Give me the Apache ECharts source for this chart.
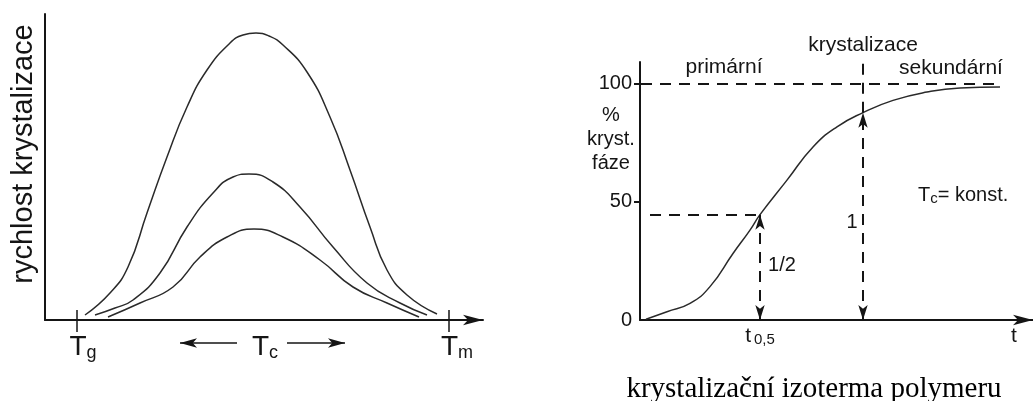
<!DOCTYPE html>
<html><head><meta charset="utf-8">
<script src="https://cdn.jsdelivr.net/npm/echarts@6/dist/echarts.min.js"></script>
<style>html,body{margin:0;padding:0;background:#fff}#c{width:1033px;height:401px}</style>
</head><body><div id="c"></div>
<script>
// ---- left panel: crystallisation rate vs. temperature ----
const rateHigh = [[40,5],[65,27],[83,53],[102,107],[122,163],[142,213],[162,250],[185,277],[198,285],[211,287],[224,284],[238,275],[262,248],[285,203],[305,150],[325,93],[342,50],[362,25],[392,6]];
const rateMid  = [[50,5],[70,12],[88,20],[115,47],[142,93],[168,127],[188,143],[204,146],[228,138],[255,113],[288,73],[322,37],[355,17],[382,5]];
const rateLow  = [[63,3],[95,17],[128,33],[155,63],[182,83],[209,91],[238,83],[275,60],[308,33],[342,17],[374,3]];
const tempTickValues  = [32, 404];          // Tg, Tm
const tempLabelValues = [38, 220, 412];     // Tg, Tc, Tm
const tempLabelSubs   = ['g', 'c', 'm'];
const tcArrowLeft  = [192, 135];
const tcArrowRight = [242, 300];

// ---- right panel: crystallisation isotherm ----
const isoTime = [6, 27, 50, 70, 93, 110, 120, 147, 173, 197, 223, 253, 287, 320, 360];
const isoPct  = [0.3, 3.5, 7.0, 14.1, 28.1, 38.0, 44.5, 59.1, 73.1, 81.6, 87.6, 92.8, 96.3, 98.0, 98.4];
const pctLabels = [0, 50, 100];
const pctTicks  = [50, 100];
const halfTime = 120, halfPct = 44.5;
const fullTime = 223, fullPct = 87.6;
const timeLabelValues = [120, 374];

const INK = '#151515';
const SANS = 'Liberation Sans';
const pairs = (xs, ys) => xs.map((x, i) => [x, ys[i]]);

const dash = { type: [11, 8], width: 2, color: INK };
const curveStyle = { color: '#2a2a2a', width: 1.5 };

const chart = echarts.init(document.getElementById('c'), null, { renderer: 'canvas' });
chart.setOption({
  animation: false,
  backgroundColor: '#fff',
  grid: [
    { left: 45, top: 14, width: 438, height: 306 },
    { left: 45, top: 300, width: 438, height: 60 },
    { left: 640, top: 62, right: 0, bottom: 81 }
  ],
  xAxis: [
    { gridIndex: 0, type: 'value', min: 0, max: 438,
      axisLine: { show: true, symbol: ['none', 'arrow'], symbolSize: [8, 20], lineStyle: { color: INK, width: 2 } },
      axisTick: { show: false }, splitLine: { show: false },
      axisLabel: {
        customValues: tempLabelValues, margin: 12,
        formatter: v => { const i = tempLabelValues.indexOf(v); return i < 0 ? '' : '{m|T}{s|' + tempLabelSubs[i] + '}'; },
        rich: {
          m: { fontSize: 28, fontFamily: SANS, color: INK, lineHeight: 30 },
          s: { fontSize: 18, fontFamily: SANS, color: INK, lineHeight: 14, verticalAlign: 'bottom' }
        }
      } },
    { gridIndex: 1, type: 'value', min: 0, max: 438, show: false },
    { gridIndex: 2, type: 'value', min: 0, max: 393,
      axisLine: { show: true, symbol: ['none', 'arrow'], symbolSize: [8, 20], lineStyle: { color: INK, width: 2 } },
      axisTick: { show: false }, splitLine: { show: false },
      axisLabel: {
        customValues: timeLabelValues, margin: 5,
        formatter: v => v === halfTime ? '{m|t}{s|0,5}' : '{m|t}',
        rich: {
          m: { fontSize: 21, fontFamily: SANS, color: INK, lineHeight: 22 },
          s: { fontSize: 15, fontFamily: SANS, color: INK, lineHeight: 10, verticalAlign: 'bottom', padding: [0, 0, 0, 3] }
        }
      } }
  ],
  yAxis: [
    { gridIndex: 0, type: 'value', min: 0, max: 306,
      axisLine: { show: true, lineStyle: { color: INK, width: 2 } },
      axisTick: { show: false }, axisLabel: { show: false }, splitLine: { show: false },
      name: 'rychlost krystalizace', nameLocation: 'middle', nameRotate: 90, nameGap: 7,
      nameTextStyle: { fontSize: 29, fontFamily: SANS, color: INK, padding: [0, 0, 0, 26] } },
    { gridIndex: 1, type: 'value', min: -20, max: 40, inverse: true, show: false },
    { gridIndex: 2, type: 'value', min: 0, max: 109,
      axisLine: { show: true, lineStyle: { color: INK, width: 2 } },
      axisTick: { show: true, customValues: pctTicks, length: 6, lineStyle: { color: INK, width: 2 } },
      axisLabel: { customValues: pctLabels, margin: 8, fontSize: 20, fontFamily: SANS, color: INK },
      splitLine: { show: false } }
  ],
  series: [
    { type: 'line', xAxisIndex: 0, yAxisIndex: 0, data: rateHigh, smooth: 0.5, showSymbol: false, symbol: 'none', lineStyle: curveStyle, silent: true },
    { type: 'line', xAxisIndex: 0, yAxisIndex: 0, data: rateMid, smooth: 0.5, showSymbol: false, symbol: 'none', lineStyle: curveStyle, silent: true },
    { type: 'line', xAxisIndex: 0, yAxisIndex: 0, data: rateLow, smooth: 0.5, showSymbol: false, symbol: 'none', lineStyle: curveStyle, silent: true },
    { type: 'line', xAxisIndex: 1, yAxisIndex: 1, data: [[0, 0]], symbol: 'none', lineStyle: { opacity: 0 }, silent: true,
      markLine: { silent: true, symbol: ['none', 'none'], label: { show: false }, animation: false,
        lineStyle: { type: 'solid', color: INK, width: 1.5 },
        data: [
          [{ coord: [tempTickValues[0], -10] }, { coord: [tempTickValues[0], 12] }],
          [{ coord: [tempTickValues[1], -10] }, { coord: [tempTickValues[1], 12] }],
          [{ coord: [tcArrowLeft[0], 23] }, { coord: [tcArrowLeft[1], 23], symbol: 'arrow', symbolSize: [7, 17] }],
          [{ coord: [tcArrowRight[0], 23] }, { coord: [tcArrowRight[1], 23], symbol: 'arrow', symbolSize: [7, 17] }]
        ] } },
    { type: 'line', xAxisIndex: 2, yAxisIndex: 2, data: pairs(isoTime, isoPct), smooth: 0.5, showSymbol: false, symbol: 'none', lineStyle: curveStyle, silent: true,
      markLine: { silent: true, symbol: ['none', 'none'], label: { show: false }, animation: false, lineStyle: dash,
        data: [
          [{ coord: [1, 100] }, { coord: [360, 100] }],
          [{ coord: [10, halfPct] }, { coord: [halfTime, halfPct] }],
          [{ coord: [halfTime, 0], symbol: 'arrow', symbolSize: [7, 15] }, { coord: [halfTime, halfPct], symbol: 'arrow', symbolSize: [7, 15] }],
          [{ coord: [fullTime, 0], symbol: 'arrow', symbolSize: [7, 15] }, { coord: [fullTime, fullPct], symbol: 'arrow', symbolSize: [7, 15] }],
          [{ coord: [fullTime, fullPct] }, { coord: [fullTime, 108.6] }]
        ] } }
  ],
  graphic: [
    { type: 'text', x: 863, y: 45, silent: true, style: { text: 'krystalizace', fontSize: 21, fontFamily: SANS, fill: INK, textAlign: 'center', textVerticalAlign: 'middle' } },
    { type: 'text', x: 724, y: 67, silent: true, style: { text: 'primární', fontSize: 21, fontFamily: SANS, fill: INK, textAlign: 'center', textVerticalAlign: 'middle' } },
    { type: 'text', x: 951, y: 68, silent: true, style: { text: 'sekundární', fontSize: 21, fontFamily: SANS, fill: INK, textAlign: 'center', textVerticalAlign: 'middle' } },
    { type: 'text', x: 611, y: 139, silent: true, style: { text: '%\nkryst.\nfáze', fontSize: 20, lineHeight: 24, fontFamily: SANS, fill: INK, textAlign: 'center', textVerticalAlign: 'middle' } },
    { type: 'text', x: 918, y: 195, silent: true, style: { text: '{m|T}{s|c}{m|= konst.}', fontSize: 20, fontFamily: SANS, fill: INK, textAlign: 'left', textVerticalAlign: 'middle',
        rich: { m: { fontSize: 20, fontFamily: SANS, fill: INK, lineHeight: 22 }, s: { fontSize: 15, fontFamily: SANS, fill: INK, lineHeight: 10, verticalAlign: 'bottom' } } } },
    { type: 'text', x: 852, y: 222, silent: true, style: { text: '1', fontSize: 20, fontFamily: SANS, fill: INK, textAlign: 'center', textVerticalAlign: 'middle' } },
    { type: 'text', x: 782, y: 265, silent: true, style: { text: '1/2', fontSize: 20, fontFamily: SANS, fill: INK, textAlign: 'center', textVerticalAlign: 'middle' } },
    { type: 'text', x: 814, y: 389, silent: true, style: { text: 'krystalizační izoterma polymeru', fontSize: 29, fontFamily: 'Liberation Serif', fill: '#000', textAlign: 'center', textVerticalAlign: 'middle' } }
  ]
});
</script></body></html>
